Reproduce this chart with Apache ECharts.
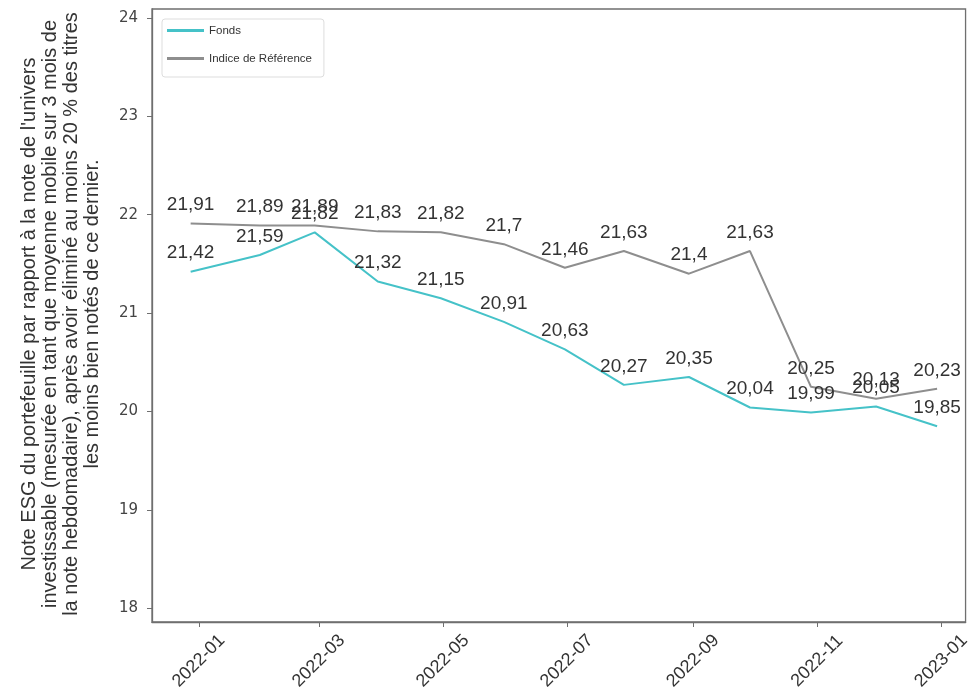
<!DOCTYPE html>
<html>
<head>
<meta charset="utf-8">
<script src="https://cdn.jsdelivr.net/npm/echarts@6/dist/echarts.min.js"></script>
<style>html,body{margin:0;padding:0;background:#fff;}#c{width:973px;height:693px;}</style>
</head>
<body>
<div id="c"></div>
<script>
const dates = ['2021-12-28','2022-01-31','2022-02-27','2022-03-30','2022-04-30','2022-05-31','2022-06-30','2022-07-29','2022-08-30','2022-09-29','2022-10-29','2022-11-30','2022-12-30'];
const fonds = [21.42,21.59,21.82,21.32,21.15,20.91,20.63,20.27,20.35,20.04,19.99,20.05,19.85];
const indice = [21.91,21.89,21.89,21.83,21.82,21.7,21.46,21.63,21.4,21.63,20.25,20.13,20.23];
const seriesNames = ['Fonds','Indice de Référence'];
const yTicks = [18,19,20,21,22,23,24];
const xTicks = ['2022-01-01','2022-03-01','2022-05-01','2022-07-01','2022-09-01','2022-11-01','2023-01-01'];
const yTitle = "Note ESG du portefeuille par rapport à la note de l'univers\ninvestissable (mesurée en tant que moyenne mobile sur 3 mois de\nla note hebdomadaire), après avoir éliminé au moins 20 % des titres\nles moins bien notés de ce dernier.";

function ts(s){ const p=s.split('-').map(Number); return Date.UTC(p[0],p[1]-1,p[2]); }
const fmt = v => String(v).replace('.', ',');
const labelStyle = {show:true, position:'top', distance:9, color:'#333', fontFamily:'Liberation Sans, Arial', fontSize:19, formatter: p => fmt(p.value[1])};

const chart = echarts.init(document.getElementById('c'));
chart.setOption({
  animation:false,
  backgroundColor:'#fff',
  grid:{left:152, right:7, top:9, bottom:71, show:true, borderColor:'#6f6f6f', borderWidth:1.3, containLabel:false},
  legend:{
    orient:'vertical', left:162, top:19, data:seriesNames,
    icon:'rect', itemWidth:37, itemHeight:3, itemGap:15,
    padding:[5,12,12,5],
    borderColor:'#ddd', borderWidth:1, borderRadius:3, backgroundColor:'#fff',
    textStyle:{fontFamily:'Liberation Sans, Arial', fontSize:11.5, color:'#333', lineHeight:13}
  },
  xAxis:{
    type:'value', min:ts('2021-12-09'), max:ts('2023-01-13'),
    splitLine:{show:false},
    axisLine:{show:true, onZero:false, lineStyle:{color:'#6f6f6f', width:1.3}},
    axisTick:{show:true, length:5, lineStyle:{color:'#6f6f6f'}, customValues: xTicks.map(ts)},
    axisLabel:{
      customValues: xTicks.map(ts), rotate:45, align:'center', verticalAlign:'middle', margin:39,
      fontFamily:'Liberation Sans, Arial', fontSize:18, color:'#333',
      formatter: v => { const d=new Date(v); return d.getUTCFullYear()+'-'+String(d.getUTCMonth()+1).padStart(2,'0'); }
    }
  },
  yAxis:{
    type:'value', min:17.86, max:24.09,
    splitLine:{show:false},
    axisLine:{show:true, onZero:false, lineStyle:{color:'#6f6f6f', width:1.3}},
    axisTick:{show:true, length:5, lineStyle:{color:'#6f6f6f'}, customValues:yTicks},
    axisLabel:{customValues:yTicks, margin:14, fontFamily:'DejaVu Sans', fontSize:15, color:'#444'}
  },
  graphic:[{
    type:'text', x:61, y:314, rotation:Math.PI/2,
    style:{text:yTitle, textAlign:'center', textVerticalAlign:'middle', fontFamily:'Liberation Sans, Arial', fontSize:20, lineHeight:21, fill:'#333'}
  }],
  series:[
    {name:seriesNames[0], type:'line', data:dates.map((d,i)=>[ts(d),fonds[i]]), showSymbol:true, symbol:'circle', symbolSize:0,
     lineStyle:{color:'#45C2C8', width:2}, itemStyle:{color:'#45C2C8'}, label:labelStyle, z:3},
    {name:seriesNames[1], type:'line', data:dates.map((d,i)=>[ts(d),indice[i]]), showSymbol:true, symbol:'circle', symbolSize:0,
     lineStyle:{color:'#8E8E8E', width:2}, itemStyle:{color:'#8E8E8E'}, label:labelStyle, z:2}
  ]
});
</script>
</body>
</html>
